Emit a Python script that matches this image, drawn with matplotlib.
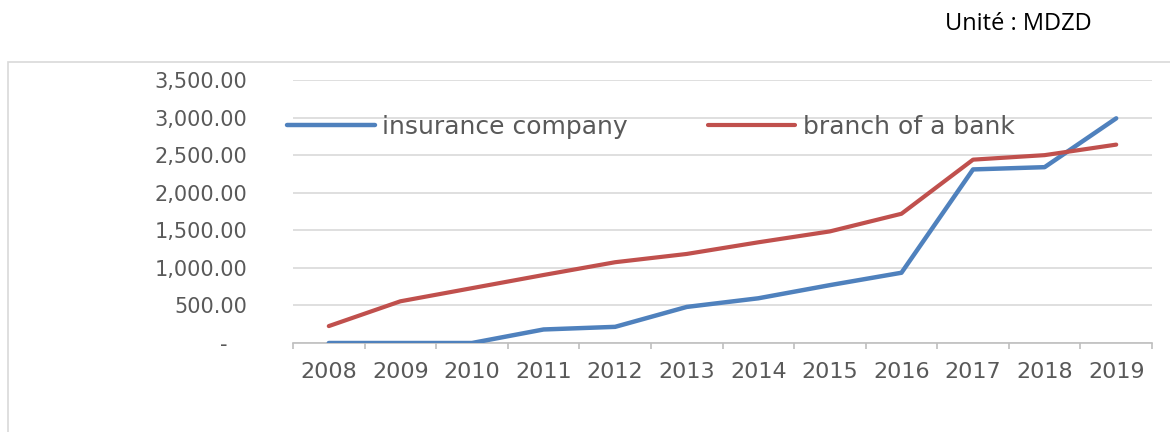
import matplotlib
matplotlib.use("Agg")
import matplotlib.pyplot as plt
from matplotlib.patches import Rectangle
from matplotlib.ticker import FuncFormatter, FixedLocator

# Annual amounts (MDZD)
years = ["2008", "2009", "2010", "2011", "2012", "2013",
         "2014", "2015", "2016", "2017", "2018", "2019"]
insurance_company = [0, 0, 0, 180, 215, 480, 595, 770, 935, 2310, 2340, 2990]
branch_of_bank = [225, 555, 730, 905, 1075, 1185, 1340, 1485, 1720, 2440, 2500, 2640]
y_ticks = [0, 500, 1000, 1500, 2000, 2500, 3000, 3500]

BLUE = "#4F81BD"
RED = "#C0504D"
GRID = "#D9D9D9"
TEXT = "#595959"

W, H, DPI = 1170, 432, 100
fig = plt.figure(figsize=(W / DPI, H / DPI), dpi=DPI)
fig.patch.set_facecolor("white")

# chart-area frame
fig.patches.append(Rectangle((8 / W, 0 - 0.05), 1.2, 1 - 62 / H + 0.05,
                             transform=fig.transFigure, fill=False,
                             edgecolor="#D9D9D9", linewidth=1.2))

fig.text(945 / W, 1 - 24 / H, "Unité : MDZD", family="Open Sans",
         fontsize=17, color="black", ha="left", va="center")

ax = fig.add_axes([293 / W, 1 - 343 / H, (1152 - 293) / W, (343 - 80) / H])
x = list(range(len(years)))

ax.plot(x, insurance_company, color=BLUE, linewidth=3.2,
        solid_capstyle="round", solid_joinstyle="round",
        label="insurance company", zorder=3)
ax.plot(x, branch_of_bank, color=RED, linewidth=3.0,
        solid_capstyle="round", solid_joinstyle="round",
        label="branch of a bank", zorder=3)

ax.set_xlim(-0.5, len(years) - 0.5)
ax.set_ylim(0, 3500)

ax.set_yticks(y_ticks)
ax.yaxis.set_major_formatter(
    FuncFormatter(lambda v, p: "-   " if v == 0 else f"{v:,.2f}"))
ax.yaxis.grid(True, color=GRID, linewidth=1.2)
ax.set_axisbelow(True)

ax.set_xticks(x)
ax.set_xticklabels(years)
ax.xaxis.set_minor_locator(FixedLocator([i - 0.5 for i in range(len(years) + 1)]))

ax.tick_params(axis="y", length=0, pad=33, labelsize=15, labelcolor=TEXT)
ax.tick_params(axis="x", which="major", length=0, pad=14, labelsize=16,
               labelcolor=TEXT)
ax.tick_params(axis="x", which="minor", length=4, width=1.2, color="#BFBFBF",
               direction="out")

for side in ("top", "right", "left"):
    ax.spines[side].set_visible(False)
ax.spines["bottom"].set_color("#BFBFBF")
ax.spines["bottom"].set_linewidth(1.2)

leg = ax.legend(loc="center left", bbox_to_anchor=(287 / W, 1 - 127 / H),
                bbox_transform=fig.transFigure, ncol=2, frameon=False,
                fontsize=18, labelcolor=TEXT, handlelength=3.5,
                handletextpad=0.3, columnspacing=3.2, borderpad=0,
                borderaxespad=0)

fig.savefig("out.png", dpi=DPI, facecolor="white")
